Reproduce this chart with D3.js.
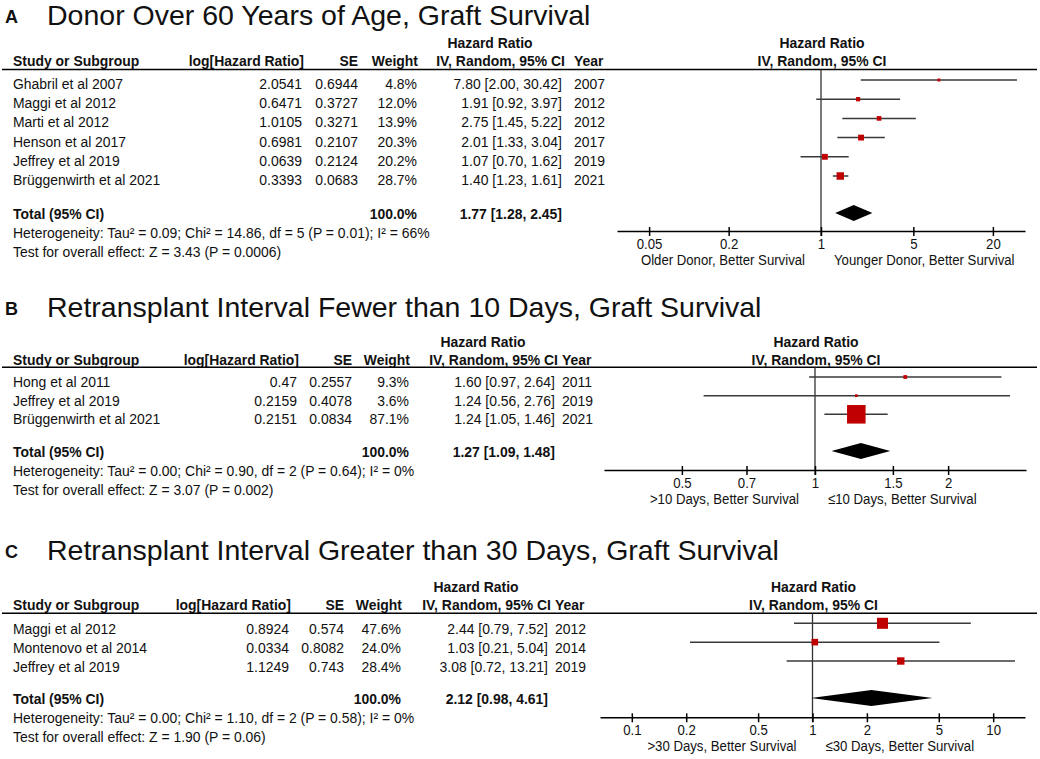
<!DOCTYPE html>
<html>
<head>
<meta charset="utf-8">
<script src="https://cdn.jsdelivr.net/npm/d3@7"></script>
<style>
  html, body { margin: 0; padding: 0; background: #fff; }
  svg { font-family: "Liberation Sans", Arial, sans-serif; }
</style>
</head>
<body>
<div id="chart"></div>
<script>
// ---- data ----
const titles = [
  'Donor Over 60 Years of Age, Graft Survival',
  'Retransplant Interval Fewer than 10 Days, Graft Survival',
  'Retransplant Interval Greater than 30 Days, Graft Survival'
];
const letters = ['A', 'B', 'C'];

const rowsA = [
  { study: 'Ghabril et al 2007', logHr: '2.0541', se: '0.6944', weight: 4.8, hr: 7.80, lo: 2.00, hi: 30.42, year: 2007 },
  { study: 'Maggi et al 2012', logHr: '0.6471', se: '0.3727', weight: 12.0, hr: 1.91, lo: 0.92, hi: 3.97, year: 2012 },
  { study: 'Marti et al 2012', logHr: '1.0105', se: '0.3271', weight: 13.9, hr: 2.75, lo: 1.45, hi: 5.22, year: 2012 },
  { study: 'Henson et al 2017', logHr: '0.6981', se: '0.2107', weight: 20.3, hr: 2.01, lo: 1.33, hi: 3.04, year: 2017 },
  { study: 'Jeffrey et al 2019', logHr: '0.0639', se: '0.2124', weight: 20.2, hr: 1.07, lo: 0.70, hi: 1.62, year: 2019 },
  { study: 'Brüggenwirth et al 2021', logHr: '0.3393', se: '0.0683', weight: 28.7, hr: 1.40, lo: 1.23, hi: 1.61, year: 2021 }
];
const rowsB = [
  { study: 'Hong et al 2011', logHr: '0.47', se: '0.2557', weight: 9.3, hr: 1.60, lo: 0.97, hi: 2.64, year: 2011 },
  { study: 'Jeffrey et al 2019', logHr: '0.2159', se: '0.4078', weight: 3.6, hr: 1.24, lo: 0.56, hi: 2.76, year: 2019 },
  { study: 'Brüggenwirth et al 2021', logHr: '0.2151', se: '0.0834', weight: 87.1, hr: 1.24, lo: 1.05, hi: 1.46, year: 2021 }
];
const rowsC = [
  { study: 'Maggi et al 2012', logHr: '0.8924', se: '0.574', weight: 47.6, hr: 2.44, lo: 0.79, hi: 7.52, year: 2012 },
  { study: 'Montenovo et al 2014', logHr: '0.0334', se: '0.8082', weight: 24.0, hr: 1.03, lo: 0.21, hi: 5.04, year: 2014 },
  { study: 'Jeffrey et al 2019', logHr: '1.1249', se: '0.743', weight: 28.4, hr: 3.08, lo: 0.72, hi: 13.21, year: 2019 }
];

const totals = [
  { weight: 100.0, hr: 1.77, lo: 1.28, hi: 2.45 },
  { weight: 100.0, hr: 1.27, lo: 1.09, hi: 1.48 },
  { weight: 100.0, hr: 2.12, lo: 0.98, hi: 4.61 }
];
const heterogeneity = [
  'Heterogeneity: Tau² = 0.09; Chi² = 14.86, df = 5 (P = 0.01); I² = 66%',
  'Heterogeneity: Tau² = 0.00; Chi² = 0.90, df = 2 (P = 0.64); I² = 0%',
  'Heterogeneity: Tau² = 0.00; Chi² = 1.10, df = 2 (P = 0.58); I² = 0%'
];
const overallTests = [
  'Test for overall effect: Z = 3.43 (P = 0.0006)',
  'Test for overall effect: Z = 3.07 (P = 0.002)',
  'Test for overall effect: Z = 1.90 (P = 0.06)'
];
const ticksA = [0.05, 0.2, 1, 5, 20];
const ticksB = [0.5, 0.7, 1, 1.5, 2];
const ticksC = [0.1, 0.2, 0.5, 1, 2, 5, 10];
const favours = [
  ['Older Donor, Better Survival', 'Younger Donor, Better Survival'],
  ['>10 Days, Better Survival', '≤10 Days, Better Survival'],
  ['>30 Days, Better Survival', '≤30 Days, Better Survival']
];

// ---- layout (pixel positions per panel) ----
const layout = [
  { rows: rowsA, ticks: ticksA, domain: [1 / 35, 35], xr: [617, 1025],
    titleY: 24.5, hrHeadY: 48, colHeadY: 65.5, ruleY: 69.5, rowsY: [80, 176], textOff: 9,
    totalY: 213, axisY: 231,
    cols: { logHr: 302, se: 358, weight: 417, ci: 562, hrHead: 491, year: 574 } },
  { rows: rowsB, ticks: ticksB, domain: [1 / 3, 3], xr: [604, 1026],
    titleY: 317, hrHeadY: 346.5, colHeadY: 364.5, ruleY: 367.3, rowsY: [377, 414.3], textOff: 10,
    totalY: 451, axisY: 470,
    cols: { logHr: 297, se: 352, weight: 409, ci: 555, hrHead: 481, year: 562 } },
  { rows: rowsC, ticks: ticksC, domain: [1 / 15, 15], xr: [600, 1025],
    titleY: 560, hrHeadY: 591.5, colHeadY: 609.5, ruleY: 613.3, rowsY: [623.3, 661], textOff: 11,
    totalY: 698, axisY: 717.3,
    cols: { logHr: 289, se: 344, weight: 401, ci: 548, hrHead: 474, year: 555 } }
];

const W = 1040, H = 759;
const SX = 0.93;          // glyphs in the figure are slightly condensed
const FS = 15;
const red = '#c00000';
const f2 = d3.format('.2f');
const f1 = d3.format('.1f');
const ciText = d => `${f2(d.hr)} [${f2(d.lo)}, ${f2(d.hi)}]`;

// marker side grows with weight
const boxSize = d3.scaleLinear().domain([0, 100]).range([2, 21]);

const svg = d3.select('#chart')
  .append('svg')
  .attr('width', W)
  .attr('height', H);

// text with a horizontal squeeze
function label(g, x, y, str, o = {}) {
  return g.append('g')
    .attr('transform', `translate(${x},${y}) scale(${o.sx || SX},1)`)
    .append('text')
    .attr('text-anchor', o.anchor || 'start')
    .attr('font-size', o.size || FS)
    .attr('font-weight', o.bold ? 'bold' : null)
    .attr('fill', '#111')
    .text(str);
}

layout.forEach((p, i) => {
  const g = svg.append('g').attr('class', `panel panel-${letters[i]}`);
  const c = p.cols;

  // Title
  label(g, 5, p.titleY - 2, letters[i], { size: 18, bold: true, sx: 1 });
  label(g, 47, p.titleY, titles[i], { size: 28.5, sx: 1 });

  // Column headers
  label(g, c.ci - 72, p.hrHeadY, 'Hazard Ratio', { bold: true, anchor: 'middle' });
  label(g, 13, p.colHeadY, 'Study or Subgroup', { bold: true });
  label(g, c.logHr + 2, p.colHeadY, 'log[Hazard Ratio]', { bold: true, anchor: 'end' });
  label(g, c.se, p.colHeadY, 'SE', { bold: true, anchor: 'end' });
  label(g, c.weight + 1, p.colHeadY, 'Weight', { bold: true, anchor: 'end' });
  label(g, c.ci + 3, p.colHeadY, 'IV, Random, 95% CI', { bold: true, anchor: 'end' });
  label(g, c.year, p.colHeadY, 'Year', { bold: true });

  // Scales
  const x = d3.scaleLog().domain(p.domain).range(p.xr);
  const y = d3.scalePoint().domain(p.rows.map(d => d.study)).range(p.rowsY);

  label(g, x(1) + 1, p.hrHeadY, 'Hazard Ratio', { bold: true, anchor: 'middle' });
  label(g, x(1) + 1, p.colHeadY, 'IV, Random, 95% CI', { bold: true, anchor: 'middle' });

  g.append('line')
    .attr('x1', 2).attr('x2', 1037)
    .attr('y1', p.ruleY).attr('y2', p.ruleY)
    .attr('stroke', '#000').attr('stroke-width', 1.5);

  // Study rows (table)
  p.rows.forEach(d => {
    const ty = y(d.study) + p.textOff;
    label(g, 13, ty, d.study);
    label(g, c.logHr, ty, d.logHr, { anchor: 'end' });
    label(g, c.se, ty, d.se, { anchor: 'end' });
    label(g, c.weight, ty, `${f1(d.weight)}%`, { anchor: 'end' });
    label(g, c.ci, ty, ciText(d), { anchor: 'end' });
    label(g, c.year, ty, d.year);
  });

  // Total row
  const t = totals[i];
  const totY = p.totalY + 5.5;
  label(g, 13, totY, 'Total (95% CI)', { bold: true });
  label(g, c.weight, totY, `${f1(t.weight)}%`, { bold: true, anchor: 'end' });
  label(g, c.ci, totY, ciText(t), { bold: true, anchor: 'end' });
  label(g, 13, totY + 19, heterogeneity[i]);
  label(g, 13, totY + 38, overallTests[i]);

  // Line of no effect
  g.append('line')
    .attr('x1', x(1)).attr('x2', x(1))
    .attr('y1', p.ruleY).attr('y2', p.axisY + 5)
    .attr('stroke', '#333').attr('stroke-width', 1.3);

  // Confidence intervals
  g.selectAll('.ci')
    .data(p.rows)
    .join('line')
    .attr('class', 'ci')
    .attr('x1', d => x(d.lo)).attr('x2', d => x(d.hi))
    .attr('y1', d => y(d.study)).attr('y2', d => y(d.study))
    .attr('stroke', '#3a3a3a').attr('stroke-width', 1.5);

  // Point estimates
  g.selectAll('.box')
    .data(p.rows)
    .join('rect')
    .attr('class', 'box')
    .attr('x', d => x(d.hr) - boxSize(d.weight) / 2)
    .attr('y', d => y(d.study) - boxSize(d.weight) / 2)
    .attr('width', d => boxSize(d.weight))
    .attr('height', d => boxSize(d.weight))
    .attr('fill', red);

  // Pooled diamond
  g.append('path')
    .datum(t)
    .attr('d', d => d3.line()([
      [x(d.lo), p.totalY], [x(d.hr), p.totalY - 8],
      [x(d.hi), p.totalY], [x(d.hr), p.totalY + 8]
    ]) + 'Z')
    .attr('fill', '#000');

  // Axis
  const axis = g.append('g')
    .attr('transform', `translate(0,${p.axisY})`)
    .call(d3.axisBottom(x)
      .tickValues(p.ticks)
      .tickFormat(d => String(d))
      .tickSizeOuter(0)
      .tickSizeInner(5));
  axis.select('.domain').attr('stroke', '#000').attr('stroke-width', 1.5);
  axis.selectAll('.tick line')
    .attr('y1', -4).attr('y2', 5)
    .attr('stroke', '#000').attr('stroke-width', 1.5);
  axis.selectAll('.tick text')
    .attr('y', 18).attr('dy', null)
    .attr('font-size', 15)
    .attr('font-family', '"Liberation Sans", Arial, sans-serif')
    .attr('fill', '#111')
    .attr('transform', 'scale(0.88,1)');

  // Favours labels
  label(g, x(1) - 16, p.axisY + 33.5, favours[i][0], { anchor: 'end', sx: 0.88 });
  label(g, x(1) + 13, p.axisY + 33.5, favours[i][1], { sx: 0.88 });
});
</script>
</body>
</html>
